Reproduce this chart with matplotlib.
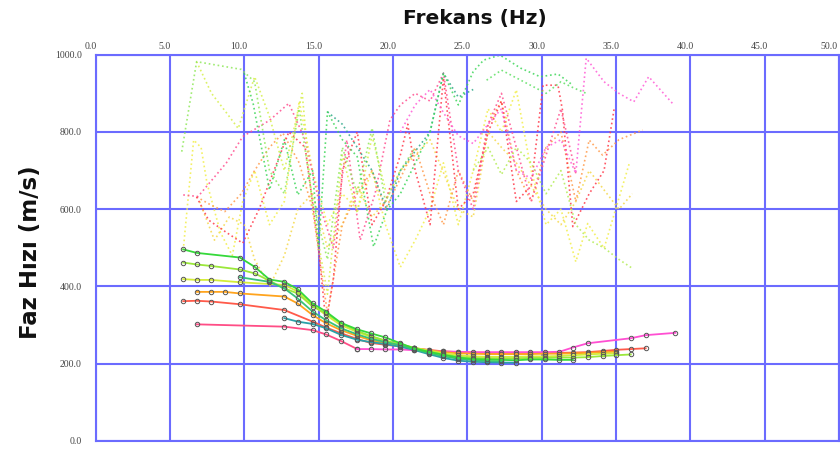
import matplotlib
matplotlib.use("Agg")
import matplotlib.pyplot as plt
import matplotlib.transforms as mtransforms

# ---- tick values -------------------------------------------------------
x_ticks = [0, 5, 10, 15, 20, 25, 30, 35, 40, 45, 50]
y_ticks = [0, 200, 400, 600, 800, 1000]

# ---- fundamental-mode dispersion curves (frequency Hz, phase velocity m/s)
green_f = [5.9, 6.8, 9.7, 10.7, 11.7, 12.7, 13.6, 14.6, 15.5, 16.5, 17.6, 18.5, 19.5, 20.5,
           21.4, 22.4, 23.4, 24.4, 25.4, 26.3, 27.3, 28.3, 29.2, 30.2, 31.2, 32.1]
green_v = [496, 487, 475, 451, 418, 412, 393, 356, 335, 306, 289, 279, 268, 253,
           240, 231, 223, 216, 212, 211, 210, 209, 211, 211, 210, 210]

lime_f = [5.9, 6.8, 7.8, 9.7, 10.7, 11.7, 12.7, 13.6, 14.6, 15.5, 16.5, 17.6, 18.5, 19.5,
          20.5, 21.4, 22.4, 23.4, 24.4, 25.4, 26.3, 27.3, 28.3, 29.2, 30.2, 31.2, 32.1,
          33.1, 34.1, 35.0, 36.0]
lime_v = [462, 457, 453, 444, 434, 415, 395, 382, 348, 331, 305, 285, 272, 260,
          250, 241, 232, 224, 218, 215, 214, 214, 214, 215, 215, 216, 216,
          217, 220, 222, 224]

ygreen_f = [5.9, 6.8, 7.8, 9.7, 12.7, 13.6, 14.6, 15.5, 16.5, 17.6, 18.5, 19.5, 20.5, 21.4,
            22.4, 23.4, 24.4, 25.4, 26.3, 27.3, 28.3, 29.2, 30.2, 31.2, 32.1, 33.1, 34.1, 35.0]
ygreen_v = [419, 417, 417, 411, 404, 387, 352, 326, 300, 282, 270, 259, 250, 242,
            234, 227, 222, 219, 218, 218, 218, 219, 219, 220, 222, 224, 226, 227]

tealgreen_f = [9.7, 11.7, 12.7, 13.6, 14.6, 15.5, 16.5, 17.6, 18.5, 19.5, 20.5, 21.4, 22.4,
               23.4, 24.4, 25.4, 26.3, 27.3]
tealgreen_v = [424, 412, 395, 369, 335, 313, 292, 276, 265, 256, 248, 238, 228,
               219, 213, 209, 207, 206]

orange_f = [6.8, 7.8, 8.7, 9.7, 12.7, 13.6, 14.6, 15.5, 16.5, 17.6, 18.5, 19.5, 20.5, 21.4,
            22.4, 23.4, 24.4, 25.4, 26.3, 27.3, 28.3, 29.2, 30.2, 31.2, 32.1, 33.1, 34.1, 35.0]
orange_v = [386, 386, 386, 382, 374, 356, 326, 305, 287, 272, 261, 253, 247, 240,
            235, 230, 227, 226, 225, 225, 225, 225, 226, 226, 227, 228, 230, 231]

red_f = [5.9, 6.8, 7.8, 9.7, 12.7, 14.6, 15.5, 16.5, 17.6, 18.5, 19.5, 20.5, 21.4, 22.4,
         23.4, 24.4, 25.4, 26.3, 27.3, 28.3, 29.2, 30.2, 31.2, 32.1, 33.1, 34.1, 35.0,
         36.0, 37.0]
red_v = [362, 363, 361, 354, 339, 309, 294, 279, 264, 254, 249, 245, 240, 236,
         232, 230, 229, 228, 228, 228, 228, 228, 228, 229, 230, 233, 236,
         238, 240]

teal_f = [12.7, 13.6, 14.6, 15.5, 16.5, 17.6, 18.5, 19.5, 20.5, 21.4, 22.4, 23.4, 24.4,
          25.4, 26.3, 27.3, 28.3]
teal_v = [318, 309, 303, 292, 275, 262, 256, 251, 244, 236, 225, 215, 208,
          205, 204, 203, 203]

pink_f = [6.8, 12.7, 14.6, 15.5, 16.5, 17.6]
pink_v = [302, 296, 287, 276, 259, 238]

magenta_f = [17.6, 18.5, 19.5, 20.5, 21.4, 22.4, 23.4, 24.4, 25.4, 26.3, 27.3, 28.3, 29.2,
             30.2, 31.2, 32.1, 33.1, 36.0, 37.0, 39.0]
magenta_v = [238, 238, 237, 237, 235, 233, 232, 231, 230, 230, 230, 230, 230,
             230, 231, 242, 253, 266, 274, 280]

solid_curves = [
    (red_f, red_v, "#ff5a4a"),
    (pink_f, pink_v, "#ff4d86"),
    (magenta_f, magenta_v, "#ff4fd2"),
    (orange_f, orange_v, "#ffa41e"),
    (ygreen_f, ygreen_v, "#d4ec3a"),
    (lime_f, lime_v, "#9be83a"),
    (teal_f, teal_v, "#2aa0a8"),
    (tealgreen_f, tealgreen_v, "#38c27a"),
    (green_f, green_v, "#35d93a"),
]

# ---- raw (noisy) picks, drawn dotted -----------------------------------
lgreen_dot_f = [5.8, 6.8, 9.8, 10.7, 11.7, 12.7, 13.7, 14.6, 15.6, 16.6, 17.6, 18.6, 19.5, 20.5, 21.5]
lgreen_dot_v = [749, 982, 962, 930, 700, 640, 860, 620, 470, 760, 640, 810, 620, 700, 760]

ygreen_dot_f = [6.8, 7.8, 8.8, 9.6, 10.7, 11.7, 12.7, 13.9, 14.6, 15.6, 16.6, 17.6, 18.6, 19.5]
ygreen_dot_v = [982, 900, 850, 809, 943, 840, 700, 900, 600, 380, 740, 590, 790, 650]

green_dot_f = [10.0, 10.6, 11.7, 12.7, 13.6, 14.6, 15.0, 15.6, 16.6, 17.6, 18.7, 19.6, 20.5,
               21.5, 22.5, 23.4, 24.4, 25.4, 26.1, 27.2, 28.6, 29.9, 31.1, 32.1]
green_dot_v = [952, 874, 650, 780, 637, 700, 503, 852, 780, 736, 503, 598, 640,
               719, 800, 952, 870, 956, 986, 999, 965, 943, 950, 921]

teal_dot_f = [15.6, 16.6, 17.6, 18.6, 19.6, 20.5, 21.5, 22.5, 23.4, 24.4, 25.4]
teal_dot_v = [852, 820, 760, 700, 598, 700, 750, 800, 952, 890, 910]

pink_dot_f = [5.9, 6.9, 8.8, 9.9, 11.7, 13.0, 14.1, 15.1, 16.0, 16.9, 17.8, 18.8, 19.8, 20.5,
              21.5, 22.5, 23.4, 24.4, 25.4, 26.4, 27.3, 28.3, 29.3, 30.3, 31.3, 32.3]
pink_dot_v = [637, 633, 720, 788, 830, 874, 780, 607, 500, 779, 520, 640, 831, 870,
              900, 880, 952, 700, 600, 820, 900, 760, 620, 740, 860, 693]

magenta_dot_f = [20.5, 21.5, 22.5, 23.4, 24.4, 25.4, 26.4, 27.3, 28.3, 29.3, 30.3, 31.3, 32.3,
                 33.0, 34.2, 35.2, 36.2, 37.2, 38.8]
magenta_dot_v = [800, 870, 910, 850, 790, 770, 820, 860, 700, 680, 760, 780, 693,
                 991, 930, 900, 878, 943, 874]

red_dot_f = [6.8, 7.6, 8.8, 9.9, 11.0, 12.0, 13.0, 14.1, 15.0, 15.5, 16.0, 16.6, 17.6, 18.6,
             19.5, 20.5, 21.0, 21.5, 22.5, 23.4, 24.4, 25.4, 26.4, 27.3, 28.3, 29.3, 30.1,
             31.1, 31.4, 32.1, 33.2, 34.2, 34.9]
red_dot_v = [632, 572, 540, 512, 600, 700, 800, 760, 500, 305, 420, 700, 800, 560,
             620, 740, 820, 700, 560, 940, 600, 640, 800, 880, 620, 660, 921,
             921, 857, 555, 640, 700, 865]

orange_dot_f = [6.8, 7.8, 8.7, 9.8, 10.7, 11.7, 12.6, 13.7, 14.6, 15.6, 16.6, 17.6, 18.6, 19.5,
                20.5, 21.5, 22.5, 23.4, 24.4, 25.4, 26.4, 27.3, 28.3, 29.3, 30.3, 31.3, 32.3,
                33.2, 34.1, 35.2, 36.8]
orange_dot_v = [632, 610, 594, 640, 700, 760, 797, 720, 600, 330, 560, 640, 700, 600,
                680, 760, 640, 560, 700, 620, 820, 880, 700, 620, 760, 800, 620,
                779, 740, 780, 805]

yellow_dot_f = [5.9, 6.6, 7.1, 7.5, 8.4, 9.2, 9.9, 10.7, 11.7, 12.7, 13.7, 14.6, 15.6, 16.6,
                17.6, 18.6, 19.5, 20.5, 21.5, 22.5, 23.4, 24.4, 25.4, 26.4, 27.3, 28.3, 29.3,
                30.3, 31.3, 32.3, 33.1, 34.2, 35.9]
yellow_dot_v = [494, 779, 760, 667, 540, 480, 620, 700, 560, 620, 880, 700, 560, 640,
                600, 700, 560, 450, 520, 600, 720, 560, 700, 860, 800, 909, 700,
                560, 600, 464, 563, 499, 719]

gold_dot_f = [7.0, 8.0, 9.0, 10.0, 10.7, 11.7, 12.7, 13.6, 14.6, 15.6, 16.6, 17.6, 18.6, 19.5,
              20.5, 22.5, 24.4, 25.4, 26.4, 27.3, 28.3, 29.3, 30.3, 31.3, 32.3, 33.2, 34.2,
              35.2, 36.1]
gold_dot_v = [620, 520, 580, 560, 470, 400, 480, 600, 640, 500, 560, 660, 580, 620,
              700, 780, 600, 580, 800, 760, 720, 660, 600, 560, 620, 700, 650,
              600, 640]

lgreen2_dot_f = [25.4, 26.4, 27.3, 28.3, 29.3, 30.3, 31.3, 32.3, 33.2, 34.2, 35.2, 36.1]
lgreen2_dot_v = [700, 760, 690, 760, 720, 640, 700, 560, 520, 500, 470, 447]

green2_dot_f = [26.3, 27.3, 28.3, 29.3, 30.3, 31.3, 32.1, 33.0]
green2_dot_v = [934, 960, 940, 920, 900, 930, 915, 900]

dotted_curves = [
    (gold_dot_f, gold_dot_v, "#f5d84a"),
    (yellow_dot_f, yellow_dot_v, "#f2ee4a"),
    (orange_dot_f, orange_dot_v, "#ff9a4a"),
    (red_dot_f, red_dot_v, "#ff3a4a"),
    (pink_dot_f, pink_dot_v, "#ff4f8f"),
    (magenta_dot_f, magenta_dot_v, "#ff5cd6"),
    (lgreen2_dot_f, lgreen2_dot_v, "#b4ec55"),
    (ygreen_dot_f, ygreen_dot_v, "#d6ef4a"),
    (lgreen_dot_f, lgreen_dot_v, "#8fe85a"),
    (teal_dot_f, teal_dot_v, "#2fa88a"),
    (green_dot_f, green_dot_v, "#3ed65a"),
    (green2_dot_f, green2_dot_v, "#5ee063"),
]

# ---- figure -------------------------------------------------------------
fig = plt.figure(figsize=(8.4, 4.51), dpi=100)
ax = fig.add_axes([95.5 / 840, 1 - 441 / 451, (839 - 95.5) / 840, (441 - 54.7) / 451])
ax.set_xlim(0, 50)
ax.set_ylim(0, 1000)

grid_c = "#6b6bff"
ax.set_xticks(x_ticks)
ax.set_yticks(y_ticks)
ax.grid(True, color=grid_c, linewidth=1.5)
ax.set_axisbelow(True)
for s in ax.spines.values():
    s.set_color(grid_c)
    s.set_linewidth(1.5)

for f, v, c in dotted_curves:
    ax.plot(f, v, color=c, linewidth=1.2, linestyle=(0, (1, 1.7)), alpha=0.85)

for f, v, c in solid_curves:
    ax.plot(f, v, color=c, linewidth=1.3, marker="o", markersize=3.2,
            markerfacecolor="none", markeredgecolor="#555555", markeredgewidth=0.7)

tick_font = dict(family="Liberation Serif", size=7, color="#444444")
ax.xaxis.tick_top()
ax.tick_params(axis="both", length=0)
ax.tick_params(axis="x", pad=3)
ax.tick_params(axis="y", pad=10)
ax.set_xticklabels([f"{t:.1f}" for t in x_ticks], **tick_font)
ax.set_yticklabels([f"{t:.1f}" for t in y_ticks], **tick_font)
xlabels = ax.get_xticklabels()
for i, lab in enumerate(xlabels):
    dx = -10 if i == len(xlabels) - 1 else -5
    lab.set_transform(lab.get_transform() +
                      mtransforms.ScaledTranslation(dx / 100, 0, fig.dpi_scale_trans))

fig.text(0.565, 0.958, "Frekans (Hz)", ha="center", va="center",
         fontsize=14.5, fontweight="bold", family="DejaVu Sans", color="#111111")
fig.text(0.036, 0.44, "Faz Hızı (m/s)", ha="center", va="center", rotation=90,
         fontsize=16.5, fontweight="bold", family="DejaVu Sans", color="#111111")

fig.savefig("out.png", dpi=100)
